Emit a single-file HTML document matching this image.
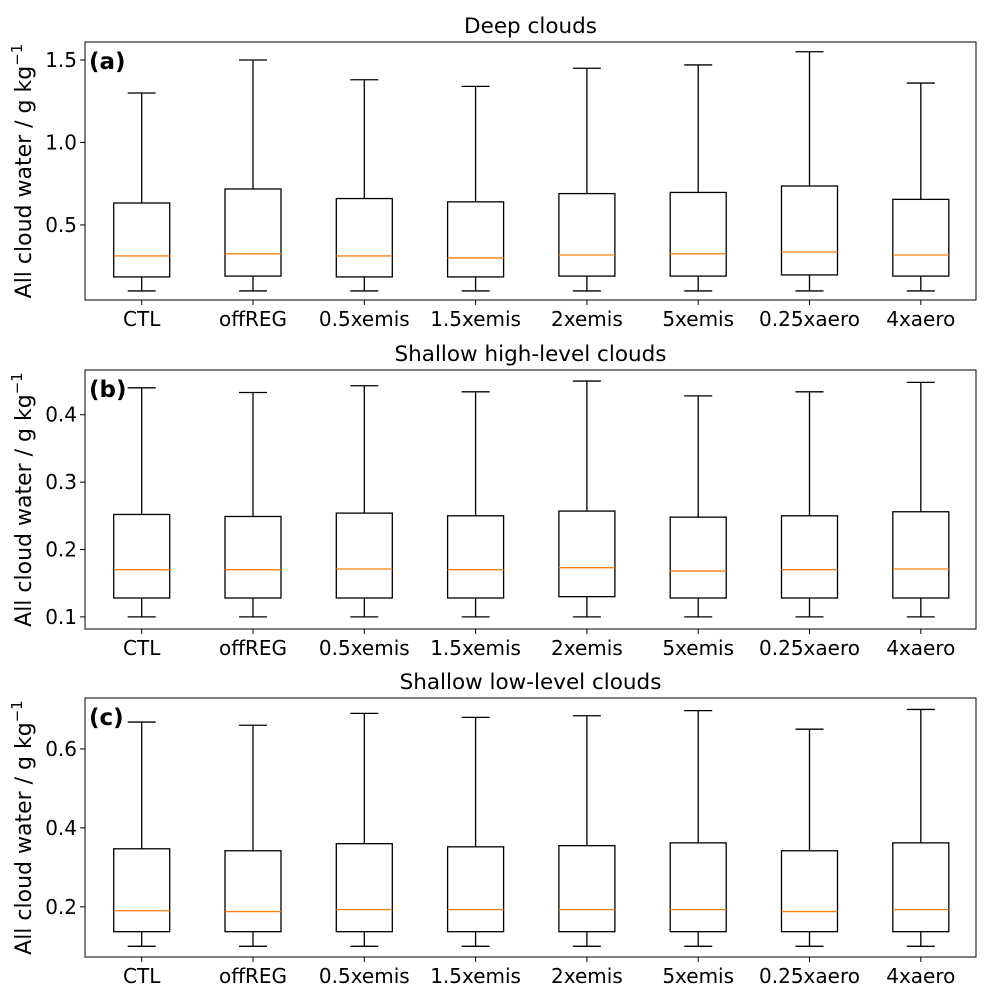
<!DOCTYPE html>
<html><head><meta charset="utf-8"><style>
body{margin:0;background:#fff;}
svg text{font-family:"DejaVu Sans","Liberation Sans",sans-serif;}
</style></head><body>
<svg id="chart" width="988" height="996" xmlns="http://www.w3.org/2000/svg"></svg>
<script>
const categories=["CTL","offREG","0.5xemis","1.5xemis","2xemis","5xemis","0.25xaero","4xaero"];
const panelTitles=["Deep clouds","Shallow high-level clouds","Shallow low-level clouds"];
const panelLabels=["(a)","(b)","(c)"];
// panel a
const aLow=[0.1,0.1,0.1,0.1,0.1,0.1,0.1,0.1];
const aQ1=[0.185,0.19,0.185,0.185,0.19,0.19,0.197,0.19];
const aMed=[0.312,0.325,0.312,0.3,0.318,0.325,0.336,0.318];
const aQ3=[0.633,0.718,0.66,0.64,0.69,0.697,0.736,0.655];
const aHigh=[1.30,1.50,1.38,1.34,1.45,1.47,1.55,1.36];
const aTicks=[0.5,1.0,1.5];
// panel b
const bLow=[0.1,0.1,0.1,0.1,0.1,0.1,0.1,0.1];
const bQ1=[0.128,0.128,0.128,0.128,0.13,0.128,0.128,0.128];
const bMed=[0.17,0.17,0.171,0.17,0.173,0.168,0.17,0.171];
const bQ3=[0.252,0.249,0.254,0.25,0.257,0.248,0.25,0.256];
const bHigh=[0.44,0.433,0.443,0.434,0.45,0.428,0.434,0.448];
const bTicks=[0.1,0.2,0.3,0.4];
// panel c
const cLow=[0.1,0.1,0.1,0.1,0.1,0.1,0.1,0.1];
const cQ1=[0.137,0.137,0.137,0.137,0.137,0.137,0.137,0.137];
const cMed=[0.19,0.188,0.193,0.193,0.193,0.193,0.188,0.193];
const cQ3=[0.347,0.342,0.36,0.352,0.355,0.362,0.342,0.362];
const cHigh=[0.668,0.66,0.69,0.68,0.684,0.697,0.65,0.70];
const cTicks=[0.2,0.4,0.6];

const NS="http://www.w3.org/2000/svg";
const svg=document.getElementById("chart");
function mk(tag,attrs,parent){const e=document.createElementNS(NS,tag);for(const k in attrs)e.setAttribute(k,attrs[k]);(parent||svg).appendChild(e);return e;}

const panels=[
 {top:42,bot:300,ymin:0.045,ymax:1.609,low:aLow,q1:aQ1,med:aMed,q3:aQ3,high:aHigh,ticks:aTicks},
 {top:370,bot:629,ymin:0.082,ymax:0.4664,low:bLow,q1:bQ1,med:bMed,q3:bQ3,high:bHigh,ticks:bTicks},
 {top:698,bot:957,ymin:0.0729,ymax:0.729,low:cLow,q1:cQ1,med:cMed,q3:cQ3,high:cHigh,ticks:cTicks}
];
const L=85,R=976;
const xPos=i=>141.7+i*111.3;
panels.forEach((p,pi)=>{
 const g=mk("g",{});
 
 
 const y=v=>p.bot-(v-p.ymin)/(p.ymax-p.ymin)*(p.bot-p.top);
 const t=mk("text",{x:(L+R)/2,y:p.top-9,"text-anchor":"middle","font-size":"21.5"},g);
 t.textContent=panelTitles[pi];
 
 
 const lab=mk("text",{x:89,y:p.top+27,"font-size":"23","font-weight":"bold","font-family":"Liberation Sans, sans-serif"},g);
 lab.textContent=panelLabels[pi];
 
 
 const yl=mk("text",{transform:`translate(31,${(p.top+p.bot)/2}) rotate(-90)`,"text-anchor":"middle","font-size":"22"},g);
 yl.innerHTML='All cloud water / g kg<tspan dy="-9" font-size="15">−1</tspan>';
 
 
 p.ticks.forEach(v=>{
  const ty=y(v);
  mk("line",{x1:L-5,x2:L,y1:ty,y2:ty,stroke:"#000","stroke-width":1},g);
  const tl=mk("text",{x:L-8,y:ty+7,"text-anchor":"end","font-size":"20"},g);
  tl.textContent=v.toFixed(1);
  
  
 });
 categories.forEach((c,i)=>{
  const cx=xPos(i);
  mk("line",{x1:cx,x2:cx,y1:p.bot,y2:p.bot+5,stroke:"#000"},g);
  const xl=mk("text",{x:cx,y:p.bot+26,"text-anchor":"middle","font-size":"20"},g);
  xl.textContent=c;
  
  
  const bg=mk("g",{stroke:"#000","stroke-width":1.3,fill:"none"},g);
  
  
  mk("line",{x1:cx,x2:cx,y1:y(p.high[i]),y2:y(p.q3[i])},bg);
  mk("line",{x1:cx,x2:cx,y1:y(p.low[i]),y2:y(p.q1[i])},bg);
  mk("line",{x1:cx-14,x2:cx+14,y1:y(p.high[i]),y2:y(p.high[i])},bg);
  mk("line",{x1:cx-14,x2:cx+14,y1:y(p.low[i]),y2:y(p.low[i])},bg);
  mk("rect",{x:cx-28,y:y(p.q3[i]),width:56,height:y(p.q1[i])-y(p.q3[i])},bg);
  mk("line",{x1:cx-28,x2:cx+28,y1:y(p.med[i]),y2:y(p.med[i]),stroke:"#ff7f0e"},bg);
 });
 mk("rect",{x:L,y:p.top,width:R-L,height:p.bot-p.top,fill:"none",stroke:"#000","stroke-width":1},g);
});
</script>
</body></html>
